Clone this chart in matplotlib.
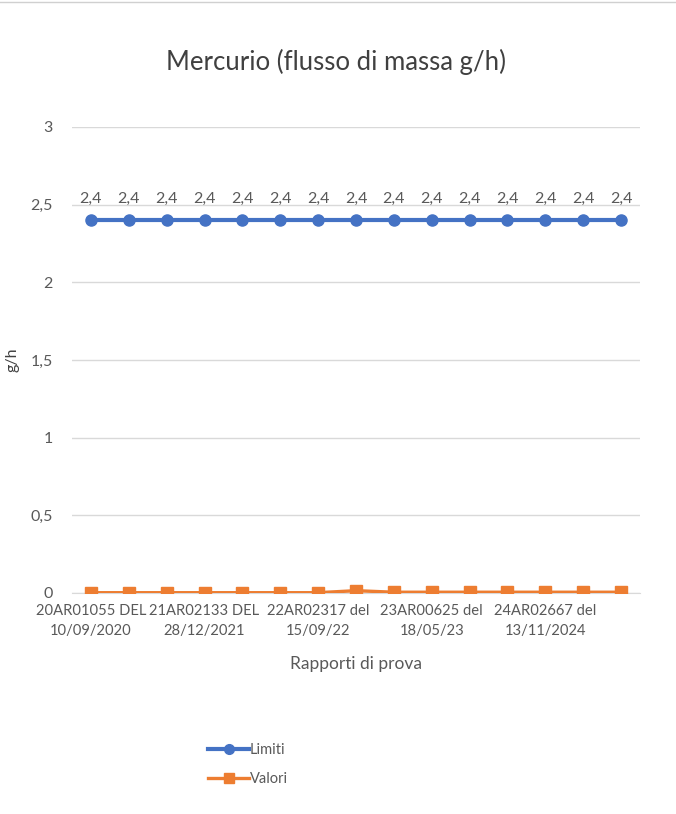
import matplotlib
matplotlib.use("Agg")
import matplotlib.pyplot as plt
from matplotlib.ticker import FuncFormatter, FixedLocator
from matplotlib.lines import Line2D

plt.rcParams['font.family'] = ['Lato', 'DejaVu Sans']

# Data
n_points = 15
limiti = [2.4] * 15
valori = [0.002, 0.002, 0.002, 0.002, 0.002, 0.002, 0.002, 0.015,
          0.005, 0.005, 0.005, 0.005, 0.005, 0.005, 0.005]
tick_positions = [0, 3, 6, 9, 12]
tick_labels = ["20AR01055 DEL\n10/09/2020", "21AR02133 DEL\n28/12/2021",
               "22AR02317 del\n15/09/22", "23AR00625 del\n18/05/23",
               "24AR02667 del\n13/11/2024"]
y_ticks = [0, 0.5, 1, 1.5, 2, 2.5, 3]

blue = "#4472C4"
orange = "#ED7D31"
gray_text = "#595959"
grid_col = "#D9D9D9"

fig = plt.figure(figsize=(6.76, 8.14), dpi=100)
ax = fig.add_axes([72/676, 1-593/814, 568/676, 466/814])

x = list(range(n_points))
ax.plot(x, limiti, color=blue, lw=3, marker='o', ms=8, zorder=3, label="Limiti")
ax.plot(x, valori, color=orange, lw=2.4, marker='s', ms=9, zorder=3, label="Valori")

for xi, v in zip(x, limiti):
    ax.annotate(f"{v:.1f}".replace('.', ','), (xi, v), xytext=(0, 10.5),
                textcoords='offset points', ha='center', va='bottom',
                fontsize=11.5, color=gray_text)

ax.set_xlim(-0.5, n_points - 0.5)
ax.set_ylim(0, 3)
ax.yaxis.set_major_locator(FixedLocator(y_ticks))
ax.yaxis.set_major_formatter(FuncFormatter(lambda v, p: (f"{v:g}").replace('.', ',')))
ax.set_xticks(tick_positions)
ax.set_xticklabels(tick_labels, fontsize=10.6, color=gray_text, linespacing=1.5)
ax.tick_params(axis='y', labelsize=11.5, labelcolor=gray_text, length=0, pad=14)
ax.tick_params(axis='x', length=0, pad=8)
ax.grid(axis='y', color=grid_col, lw=1)
ax.set_axisbelow(True)
for s in ['top', 'right', 'left']:
    ax.spines[s].set_visible(False)
ax.spines['bottom'].set_color(grid_col)

fig.text(336/676, 1-62/814, "Mercurio (flusso di massa g/h)", fontsize=18.5,
         color="#404040", ha='center', va='center')
ax.set_xlabel("Rapporti di prova", fontsize=12.5, color=gray_text, labelpad=13)
ax.set_ylabel("g/h", fontsize=11.5, color="#404040", labelpad=8)

handles = [Line2D([0], [0], color=blue, lw=3, marker='o', ms=7),
           Line2D([0], [0], color=orange, lw=2.4, marker='s', ms=7)]
fig.legend(handles, ["Limiti", "Valori"], loc='upper left',
           bbox_to_anchor=(195/676, 1-730/814), frameon=False, fontsize=10.5,
           labelcolor=gray_text, handlelength=2.8, handletextpad=0.05,
           labelspacing=1.0)

fig.add_artist(Line2D([0, 1], [1-2/814, 1-2/814], color="#D0D0D0", lw=1,
                      transform=fig.transFigure))

fig.savefig("out.png", dpi=100, facecolor='white')
